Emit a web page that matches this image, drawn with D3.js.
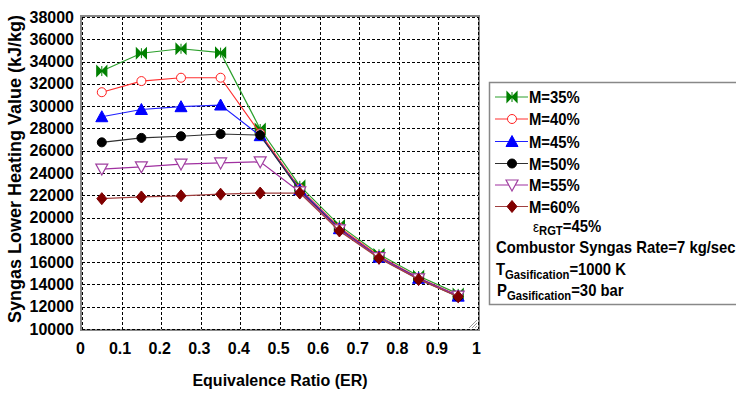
<!DOCTYPE html>
<html>
<head>
<meta charset="utf-8">
<script src="https://cdn.jsdelivr.net/npm/d3@7"></script>
<style>
  body { margin: 0; background: #fff; }
  text { font-family: "Liberation Sans", Arial, sans-serif; font-weight: bold; fill: #000; }
</style>
</head>
<body>
<div id="chart"></div>
<script>
// equivalence ratio samples
var er = [0.05, 0.15, 0.25, 0.35, 0.45, 0.55, 0.65, 0.75, 0.85, 0.95];

// syngas LHV (kJ/kg)
var m35 = [33150, 34750, 35150, 34800, 27950, 22850, 19300, 16700, 14750, 13150];
var m40 = [31250, 32250, 32550, 32550, 27550, 22600, 19100, 16550, 14600, 13000];
var m45 = [29050, 29700, 29950, 30100, 27350, 22500, 19000, 16450, 14550, 12950];
var m50 = [26750, 27150, 27300, 27500, 27400, 22400, 18950, 16400, 14500, 12900];
var m55 = [24350, 24550, 24800, 24900, 25000, 22300, 18900, 16400, 14500, 12950];
var m60 = [21700, 21850, 21950, 22100, 22200, 22200, 18800, 16350, 14450, 12900];

var seriesNames = ["M=35%", "M=40%", "M=45%", "M=50%", "M=55%", "M=60%"];
var xTicks = [0, 0.1, 0.2, 0.3, 0.4, 0.5, 0.6, 0.7, 0.8, 0.9, 1];
var yTicks = [10000, 12000, 14000, 16000, 18000, 20000, 22000, 24000, 26000, 28000, 30000, 32000, 34000, 36000, 38000];

var series = [
  {name: seriesNames[0], vals: m35, line: "#2ca02c", fill: "#008000", stroke: "#008000", shape: "bowtie"},
  {name: seriesNames[1], vals: m40, line: "#ff3030", fill: "#fff",    stroke: "#ff2020", shape: "circle"},
  {name: seriesNames[2], vals: m45, line: "#2020ff", fill: "#0000ff", stroke: "#0000ff", shape: "triup"},
  {name: seriesNames[3], vals: m50, line: "#303030", fill: "#000",    stroke: "#000",    shape: "circle"},
  {name: seriesNames[4], vals: m55, line: "#a030a0", fill: "#fff",    stroke: "#a040a0", shape: "tridown"},
  {name: seriesNames[5], vals: m60, line: "#a04040", fill: "#800000", stroke: "#800000", shape: "diamond"}
];

var W = 736, H = 393;
var x = d3.scaleLinear().domain([0, 1]).range([82, 478]);
var y = d3.scaleLinear().domain([10000, 38000]).range([329, 17]);

var svg = d3.select("#chart").append("svg")
    .attr("width", W)
    .attr("height", H);

// frame
svg.append("rect")
    .attr("x", x(0) - 1).attr("y", y(38000) - 1)
    .attr("width", x(1) - x(0) + 2).attr("height", y(10000) - y(38000) + 2)
    .attr("fill", "#fff").attr("stroke", "#888").attr("stroke-width", 2);

// dotted grid
var grid = svg.append("g").attr("stroke", "#000").attr("stroke-width", 1).attr("stroke-dasharray", "3,2");
grid.selectAll(".gx").data(xTicks).enter().append("line")
    .attr("x1", function(d){return Math.round(x(d)) + 0.5;})
    .attr("x2", function(d){return Math.round(x(d)) + 0.5;})
    .attr("y1", y(38000)).attr("y2", y(10000));
grid.selectAll(".gy").data(yTicks).enter().append("line")
    .attr("y1", function(d){return Math.round(y(d)) + 0.5;})
    .attr("y2", function(d){return Math.round(y(d)) + 0.5;})
    .attr("x1", x(0)).attr("x2", x(1));

// resize grip bottom right
var grip = svg.append("g").attr("stroke", "#999").attr("stroke-width", 1);
[3, 6, 9].forEach(function(k){
  grip.append("line")
      .attr("x1", x(1) - k).attr("y1", y(10000) - 1)
      .attr("x2", x(1) - 1).attr("y2", y(10000) - k);
});

// axes (labels only, like the original)
var xAxis = d3.axisBottom(x).tickValues(xTicks).tickSize(0).tickPadding(14)
    .tickFormat(function(d){ return d === 0 || d === 1 ? d3.format("d")(d) : d3.format(".1f")(d); });
var gx = svg.append("g").attr("transform", "translate(-2," + y(10000) + ")").call(xAxis);
gx.select(".domain").remove();
gx.selectAll("text").style("font-size", "16px").style("font-family", "'Liberation Sans', Arial, sans-serif").style("font-weight", "bold").attr("fill", "#000");

var yAxis = d3.axisLeft(y).tickValues(yTicks).tickSize(0).tickPadding(8).tickFormat(d3.format("d"));
var gy = svg.append("g").attr("transform", "translate(" + x(0) + ",0)").call(yAxis);
gy.select(".domain").remove();
gy.selectAll("text").style("font-size", "16px").style("font-family", "'Liberation Sans', Arial, sans-serif").style("font-weight", "bold").attr("fill", "#000");

// axis titles
svg.append("text")
    .attr("x", 280).attr("y", 386)
    .attr("text-anchor", "middle")
    .style("font-size", "16px")
    .text("Equivalence Ratio (ER)");

svg.append("text")
    .attr("transform", "translate(21,169) rotate(-90)")
    .attr("text-anchor", "middle")
    .style("font-size", "18px")
    .text("Syngas Lower Heating Value (kJ/kg)");

// markers
function drawMarker(g, shape, cx, cy, s) {
  if (shape === "circle") {
    g.append("circle").attr("cx", cx).attr("cy", cy).attr("r", 4.5)
        .attr("fill", s.fill).attr("stroke", s.stroke).attr("stroke-width", 1);
  } else if (shape === "triup") {
    g.append("path").attr("d", "M" + cx + "," + (cy - 6) + "L" + (cx + 6) + "," + (cy + 5) + "L" + (cx - 6) + "," + (cy + 5) + "Z")
        .attr("fill", s.fill).attr("stroke", s.stroke).attr("stroke-width", 1);
  } else if (shape === "tridown") {
    g.append("path").attr("d", "M" + (cx - 6) + "," + (cy - 5) + "L" + (cx + 6) + "," + (cy - 5) + "L" + cx + "," + (cy + 6) + "Z")
        .attr("fill", s.fill).attr("stroke", s.stroke).attr("stroke-width", 1.2);
  } else if (shape === "diamond") {
    g.append("path").attr("d", "M" + cx + "," + (cy - 6) + "L" + (cx + 5) + "," + cy + "L" + cx + "," + (cy + 6) + "L" + (cx - 5) + "," + cy + "Z")
        .attr("fill", s.fill).attr("stroke", s.stroke).attr("stroke-width", 1);
  } else if (shape === "bowtie") {
    g.append("path").attr("d", "M" + (cx - 5) + "," + (cy - 5) + "L" + cx + "," + cy + "L" + (cx - 5) + "," + (cy + 5) + "Z" +
                               "M" + (cx + 5) + "," + (cy - 5) + "L" + cx + "," + cy + "L" + (cx + 5) + "," + (cy + 5) + "Z")
        .attr("fill", s.fill).attr("stroke", s.stroke).attr("stroke-width", 1.2);
    g.append("line").attr("x1", cx).attr("x2", cx).attr("y1", cy - 5).attr("y2", cy + 5)
        .attr("stroke", s.stroke).attr("stroke-width", 1);
  }
}

var line = d3.line()
    .x(function(d){ return x(d[0]); })
    .y(function(d){ return y(d[1]); });

var plot = svg.append("g");
series.forEach(function(s){
  var pts = d3.zip(er, s.vals);
  plot.append("path")
      .attr("d", line(pts))
      .attr("fill", "none")
      .attr("stroke", s.line)
      .attr("stroke-width", 1.2);
  var mg = plot.append("g");
  pts.forEach(function(p){ drawMarker(mg, s.shape, x(p[0]), y(p[1]), s); });
});

// legend
var leg = svg.append("g");
leg.append("rect")
    .attr("x", 489.5).attr("y", 82.5).attr("width", 260).attr("height", 222)
    .attr("fill", "#fff").attr("stroke", "#888").attr("stroke-width", 1.5);

// legend text is narrow and tall in the original
function legText(px, py) {
  return leg.append("text")
      .attr("transform", "translate(" + px + "," + py + ") scale(0.9,1)")
      .style("font-size", "16.5px");
}

var rowY = [97, 119, 141.5, 163.5, 185, 206.5];
series.forEach(function(s, i){
  leg.append("line").attr("x1", 495).attr("x2", 528).attr("y1", rowY[i]).attr("y2", rowY[i])
      .attr("stroke", s.line).attr("stroke-width", 1.2);
  drawMarker(leg, s.shape, 512, rowY[i], s);
  legText(529, rowY[i] + 6).text(s.name);
});

var eps = legText(533, 232);
eps.append("tspan").style("font-size", "15px").style("font-weight", "normal").text("\u03b5");
eps.append("tspan").attr("dy", 3).style("font-size", "12.5px").text("RGT");
eps.append("tspan").attr("dy", -3).text("=45%");

legText(496, 252.5).text("Combustor Syngas Rate=7 kg/sec");

var tg = legText(496, 275);
tg.append("tspan").text("T");
tg.append("tspan").attr("dy", 4).style("font-size", "12.5px").text("Gasification");
tg.append("tspan").attr("dy", -4).text("=1000 K");

var pg = legText(497, 296);
pg.append("tspan").text("P");
pg.append("tspan").attr("dy", 4).style("font-size", "12.5px").text("Gasification");
pg.append("tspan").attr("dy", -4).text("=30 bar");
</script>
</body>
</html>
